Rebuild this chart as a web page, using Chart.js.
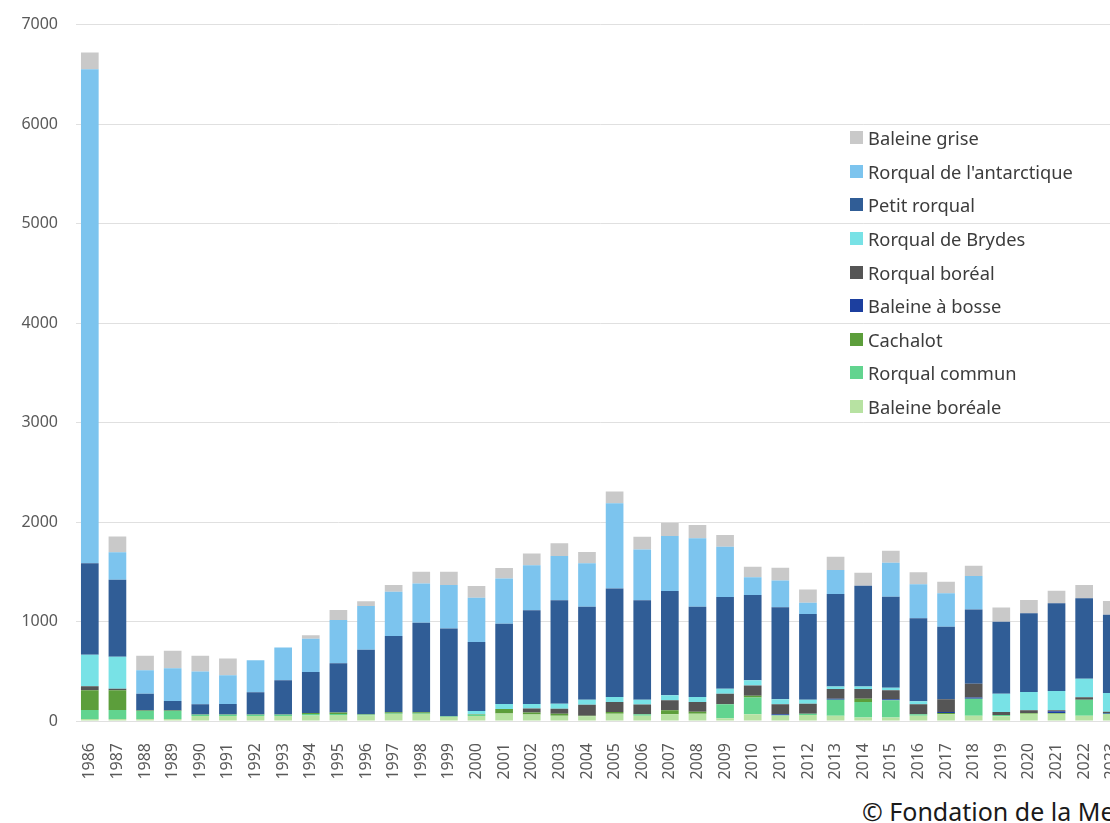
<!DOCTYPE html>
<html lang="fr">
<head>
<meta charset="utf-8">
<title>Captures de baleines</title>
<script src="https://cdn.jsdelivr.net/npm/chart.js@4.4.1/dist/chart.umd.min.js"></script>
<style>
    html, body { margin: 0; padding: 0; background: #fff; overflow: hidden; }
    body { width: 1110px; height: 823px; position: relative; font-family: "Noto Sans", sans-serif; }
    .chart-wrap { position: absolute; left: 0; top: -3px; width: 1145px; height: 794px; }
    #legend { position: absolute; left: 850px; top: 121px; margin: 0; padding: 0; list-style: none; }
    #legend li { height: 33.6px; display: flex; align-items: center; font-size: 18.3px; color: #3c3c3c; white-space: nowrap; }
    #legend li span { display: inline-block; width: 13px; height: 13px; margin-right: 5px; }
    .credit { position: absolute; left: 862px; top: 794px; font-size: 25px; color: #1a1a1a; white-space: nowrap; }
</style>
</head>
<body>
<div class="chart-wrap">
    <canvas id="Canvas" width="1145" height="794"></canvas>
</div>
<ul id="legend"></ul>
<div class="credit">© Fondation de la Mer</div>

<script>
const years = ['1986','1987','1988','1989','1990','1991','1992','1993','1994','1995','1996','1997','1998','1999',
    '2000','2001','2002','2003','2004','2005','2006','2007','2008','2009','2010','2011','2012','2013','2014',
    '2015','2016','2017','2018','2019','2020','2021','2022','2023'];

// from the bottom of the stack to the top
const baleineBoreale = [20,20,20,20,50,50,50,50,55,60,55,70,70,40,50,75,65,54,47,74,54,67,74,27,67,54,60,54,34,34,54,67,54,47,74,74,54,70];
const rorqualCommun = [90,90,80,80,12,12,12,12,15,10,7,5,5,5,10,0,0,0,0,0,13,0,0,141,168,5,14,160,157,174,13,0,170,13,0,0,160,4];
const cachalot = [200,200,5,5,3,3,3,3,10,15,5,12,12,2,5,45,20,20,7,16,0,40,20,0,20,0,0,0,33,0,0,13,0,0,6,6,0,0];
const baleineABosse = [0,0,0,0,0,0,0,0,0,0,0,0,0,0,0,0,0,0,0,0,0,0,0,0,0,10,0,10,0,10,0,10,11,0,0,17,0,7];
const rorqualBoreal = [40,15,0,0,0,0,0,0,0,0,0,0,0,0,0,0,40,50,110,100,100,101,97,107,103,100,100,98,98,90,101,128,140,30,27,10,24,13];
const rorqualBrydes = [315,320,0,0,0,0,0,0,0,0,0,0,0,0,35,50,47,50,50,50,47,50,50,50,51,50,40,26,26,27,30,0,0,185,184,195,187,188];
const petitRorqual = [920,775,170,95,103,107,223,344,412,495,650,767,900,884,694,808,942,1039,935,1092,999,1049,908,921,857,925,861,928,1012,915,834,730,747,723,791,881,808,787];
const rorqualAntarctique = [4965,275,235,330,330,288,322,331,335,435,440,446,396,436,446,455,452,445,436,856,512,552,687,506,178,268,114,242,0,341,342,335,335,0,0,0,0,0];
const baleineGrise = [170,160,145,175,158,168,0,0,34,100,47,67,117,134,117,104,117,128,113,120,128,134,134,117,107,129,134,134,131,121,120,117,104,144,134,127,134,137];

const yTicks = [0, 1000, 2000, 3000, 4000, 5000, 6000, 7000];

const series = [
    { label: 'Baleine boréale', data: baleineBoreale, color: '#b7e2a2' },
    { label: 'Rorqual commun', data: rorqualCommun, color: '#62d48f' },
    { label: 'Cachalot', data: cachalot, color: '#5c9e3b' },
    { label: 'Baleine à bosse', data: baleineABosse, color: '#1c3f9f' },
    { label: 'Rorqual boréal', data: rorqualBoreal, color: '#555555' },
    { label: 'Rorqual de Brydes', data: rorqualBrydes, color: '#78e2e6' },
    { label: 'Petit rorqual', data: petitRorqual, color: '#305d96' },
    { label: "Rorqual de l'antarctique", data: rorqualAntarctique, color: '#7cc4ee' },
    { label: 'Baleine grise', data: baleineGrise, color: '#c9c9c9' }
];

const ctx = document.getElementById('Canvas').getContext('2d');

const config = {
    type: 'bar',
    data: {
        labels: years,
        datasets: series.map(s => ({
            label: s.label,
            data: s.data,
            backgroundColor: s.color,
            borderWidth: 0,
            categoryPercentage: 0.8,
            barPercentage: 0.8
        }))
    },
    options: {
        responsive: false,
        animation: false,
        layout: { padding: { top: 21, right: 2, left: 0, bottom: 0 } },
        plugins: {
            legend: { display: false },
            tooltip: { enabled: false }
        },
        scales: {
            x: {
                stacked: true,
                grid: { display: false },
                border: { display: false },
                ticks: {
                    autoSkip: false,
                    minRotation: 90,
                    maxRotation: 90,
                    padding: 14,
                    color: '#595959',
                    font: { family: 'Noto Sans', size: 16 }
                },
                afterFit: scale => { scale.height = 70; }
            },
            y: {
                stacked: true,
                min: 0,
                max: 7000,
                afterBuildTicks: scale => { scale.ticks = yTicks.map(v => ({ value: v })); },
                grid: { color: '#e0e0e0', drawTicks: false },
                border: { display: false },
                ticks: {
                    padding: 18,
                    color: '#595959',
                    font: { family: 'Noto Sans', size: 16 },
                    callback: v => String(v)
                },
                afterFit: scale => { scale.width = 76; }
            }
        }
    }
};

const chart = new Chart(ctx, config);

// legend inside the plot, top of the stack first
const legend = document.getElementById('legend');
chart.data.datasets.slice().reverse().forEach(ds => {
    const li = document.createElement('li');
    const box = document.createElement('span');
    box.style.background = ds.backgroundColor;
    li.appendChild(box);
    li.appendChild(document.createTextNode(ds.label));
    legend.appendChild(li);
});
</script>
</body>
</html>
